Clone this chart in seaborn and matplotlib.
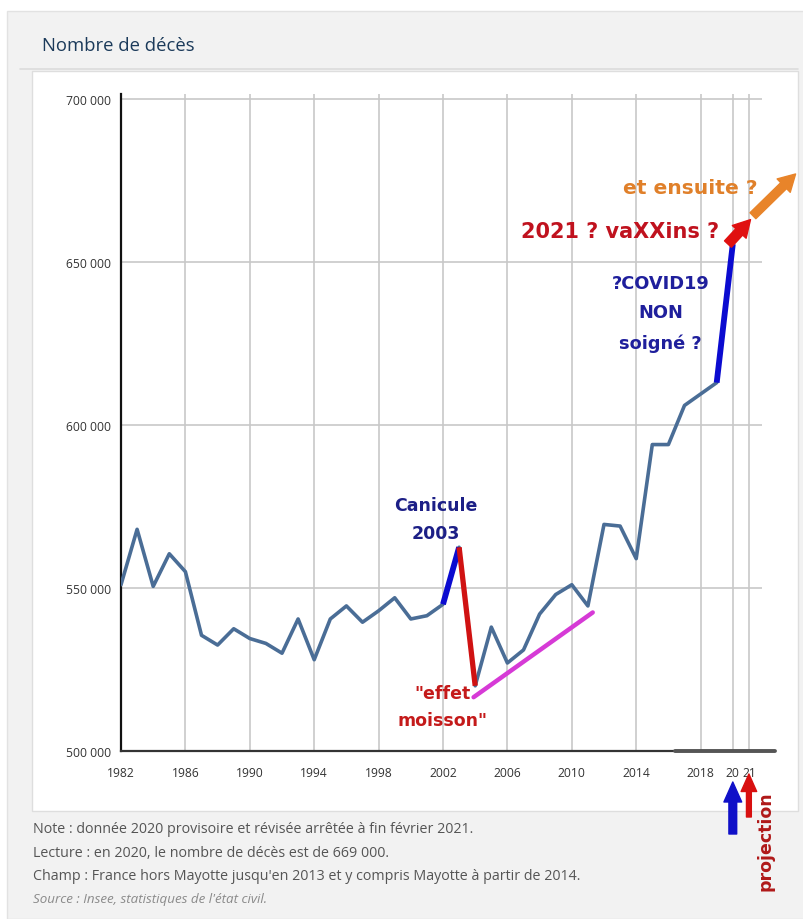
import numpy as np
import pandas as pd
import seaborn as sns
import matplotlib.pyplot as plt
from matplotlib.patches import Rectangle
from matplotlib.lines import Line2D

# données
years = list(range(1982, 2021))
deaths = [551000, 568000, 550500, 560500, 555000, 535500, 532500, 537500, 534500, 533000,
          530000, 540500, 528000, 540500, 544500, 539500, 543000, 547000, 540500, 541500,
          545000, 562500, 520000, 538000, 527000, 531000, 542000, 548000, 551000, 544500,
          569500, 569000, 559000, 594000, 594000, 606000, 609500, 613000, 655500]

canicule_years = [2002, 2003]
moisson_years = [2003, 2004]
covid_years = [2019, 2020]
trend_years = [2003.9, 2011.3]
trend_values = [516500, 542500]
proj_years = [2020, 2021.1, 2023.9]
proj_values = [655500, 663000, 677000]

xticks = [1982, 1986, 1990, 1994, 1998, 2002, 2006, 2010, 2014, 2018, 2020, 2021]
xlabels = ["1982", "1986", "1990", "1994", "1998", "2002", "2006", "2010", "2014", "2018", "20", "21"]
yticks = [500000, 550000, 600000, 650000, 700000]
ylabels = ["500 000", "550 000", "600 000", "650 000", "700 000"]

notes = ["Note : donnée 2020 provisoire et révisée arrêtée à fin février 2021.",
         "Lecture : en 2020, le nombre de décès est de 669 000.",
         "Champ : France hors Mayotte jusqu'en 2013 et y compris Mayotte à partir de 2014."]
source = "Source : Insee, statistiques de l'état civil."

df = pd.DataFrame({"annee": years, "deces": deaths})
dd = dict(zip(years, deaths))

sns.set_style("white")
plt.rcParams['font.family'] = ['Open Sans', 'DejaVu Sans']

W, H = 804, 920
fig = plt.figure(figsize=(W / 100, H / 100), dpi=100)
fig.patch.set_facecolor("white")

# fond gris + panneau blanc
fig.add_artist(Rectangle((7 / W, 0), 1, 1 - 12 / H, transform=fig.transFigure,
                         facecolor="#f2f2f2", edgecolor="#e2e2e2", lw=1, zorder=-10))
fig.add_artist(Rectangle((32 / W, 1 - 812 / H), (798 - 32) / W, (812 - 72) / H,
                         transform=fig.transFigure, facecolor="white",
                         edgecolor="#dedede", lw=1, zorder=-9))
fig.add_artist(Line2D([20 / W, 798 / W], [1 - 70 / H, 1 - 70 / H], transform=fig.transFigure,
                      color="#dcdcdc", lw=1.2, zorder=-8))
fig.text(42 / W, 1 - 46 / H, "Nombre de décès", fontsize=13.3, color="#1b3a5a",
         va="center", ha="left")

px_year = 16.1
px_k = 3.26
ax = fig.add_axes([121 / W, (H - 752) / H, (762 - 121) / W, (752 - 95) / H])
ax.set_facecolor("none")

sns.lineplot(data=df, x="annee", y="deces", ax=ax, color="#4a6d96", lw=2.6, zorder=3)

ax.set_xlim(1982, 1982 + (762 - 121) / px_year)
ax.set_ylim(500000, 500000 + (752 - 95) / px_k * 1000)
ax.set_xticks(xticks)
ax.set_xticklabels(xlabels)
ax.set_yticks(yticks)
ax.set_yticklabels(ylabels)
ax.set_xlabel("")
ax.set_ylabel("")
ax.tick_params(axis="both", labelsize=8.7, labelcolor="#333333", color="#888888")
ax.tick_params(axis="x", length=0, pad=11)
ax.tick_params(axis="y", length=4, pad=3, width=0.8)
ax.grid(True, color="#c8c8c8", lw=1.2, zorder=0)
for s in ["top", "right"]:
    ax.spines[s].set_visible(False)
ax.spines["left"].set_color("#111111")
ax.spines["left"].set_linewidth(1.6)
ax.spines["bottom"].set_color("#333333")
ax.spines["bottom"].set_linewidth(1.6)
ax.axhline(500000, xmin=0.865, xmax=1.02, color="#555555", lw=2.8, clip_on=False, zorder=4)

# segments colorés
ax.plot(canicule_years, [dd[y] for y in canicule_years], color="#0b0bd0", lw=4.2,
        solid_capstyle="butt", zorder=5)
ax.plot(moisson_years, [dd[y] for y in moisson_years], color="#d01212", lw=3.8,
        solid_capstyle="butt", zorder=5)
ax.plot(covid_years, [dd[y] for y in covid_years], color="#0b0bd0", lw=4.2,
        solid_capstyle="butt", zorder=5)
ax.plot(trend_years, trend_values, color="#d63ad6", lw=3.2, zorder=5)

ax.annotate("", xy=(proj_years[1], proj_values[1]), xytext=(proj_years[0] - 0.3, proj_values[0]),
            arrowprops=dict(arrowstyle="simple,head_length=0.8,head_width=0.9,tail_width=0.45",
                            color="#e01010", mutation_scale=15, shrinkA=0, shrinkB=0),
            annotation_clip=False, zorder=6)
ax.annotate("", xy=(proj_years[2], proj_values[2]), xytext=(proj_years[1] + 0.15, proj_values[1] + 1200),
            arrowprops=dict(arrowstyle="simple,head_length=0.8,head_width=0.9,tail_width=0.4",
                            color="#e8842a", mutation_scale=15, shrinkA=0, shrinkB=0),
            annotation_clip=False, zorder=6)

bold = dict(family="DejaVu Sans", fontweight="bold", ha="center", va="center", zorder=7)
ax.text(2001.56, 571200, "Canicule\n2003", fontsize=12.5, color="#1c1f86", linespacing=1.7, **bold)
ax.text(2001.95, 513600, "\"effet\nmoisson\"", fontsize=12.5, color="#c41a1a", linespacing=1.6, **bold)
ax.text(2015.5, 634400, "?COVID19\nNON\nsoigné ?", fontsize=12.8, color="#1f1f9c", linespacing=1.8, **bold)
ax.text(2013.0, 659500, "2021 ? vaXXins ?", fontsize=15, color="#c0121e", **bold)
ax.text(2017.35, 672700, "et ensuite ?", fontsize=14.6, color="#e0802a", **bold)

# flèches sous l'axe
arrow_blue = dict(arrowstyle="simple,head_length=0.9,head_width=0.8,tail_width=0.35",
                  color="#1010c8", mutation_scale=16, shrinkA=0, shrinkB=0)
arrow_red = dict(arrowstyle="simple,head_length=0.9,head_width=0.8,tail_width=0.25",
                 color="#d81010", mutation_scale=14, shrinkA=0, shrinkB=0)
ax.annotate("", xy=(2020, H - 783), xytext=(2020, H - 835), xycoords=("data", "figure pixels"),
            textcoords=("data", "figure pixels"), arrowprops=arrow_blue, annotation_clip=False)
ax.annotate("", xy=(2021, H - 775), xytext=(2021, H - 818), xycoords=("data", "figure pixels"),
            textcoords=("data", "figure pixels"), arrowprops=arrow_red, annotation_clip=False)
fig.text(766 / W, 1 - 841 / H, "projection", rotation=90, fontsize=12.5, color="#b01818",
         family="DejaVu Sans", fontweight="bold", ha="center", va="center")

for i, n in enumerate(notes):
    fig.text(33 / W, 1 - (830 + 23.5 * i) / H, n, fontsize=10.3, color="#555555", va="center")
fig.text(33 / W, 1 - 900 / H, source, fontsize=9.6, color="#8a8a8a", style="italic", va="center")

fig.savefig("out.png", dpi=100)
